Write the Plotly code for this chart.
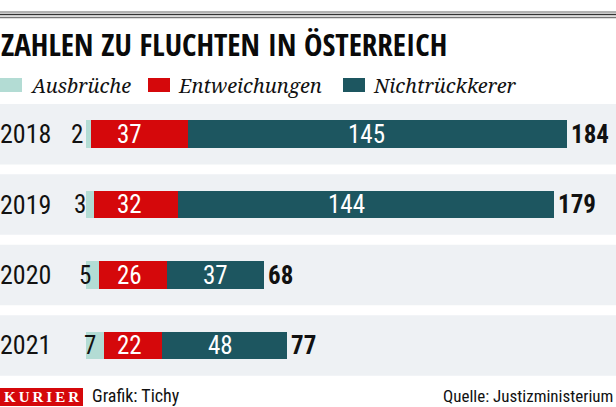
import plotly.graph_objects as go

# ---- data ----
years = ["2018", "2019", "2020", "2021"]
ausbrueche = [2, 3, 5, 7]
entweichungen = [37, 32, 26, 22]
nichtrueckkehrer = [145, 144, 37, 48]
totals = [184, 179, 68, 77]
series_names = ["Ausbrüche", "Entweichungen", "Nichtrückkerer"]

title_text = "ZAHLEN ZU FLUCHTEN IN ÖSTERREICH"
credit_text = "Grafik: Tichy"
source_text = "Quelle: Justizministerium"

# ---- style ----
W, H = 616, 407
C_LIGHT = "#b3dcd4"
C_RED = "#d5080b"
C_DARK = "#1d5660"
C_BAND = "#eef1f4"
NUM_FONT = "Roboto Condensed, Roboto, sans-serif"
colors = [C_LIGHT, C_RED, C_DARK]

fig = go.Figure()
for name, vals, col in zip(series_names, [ausbrueche, entweichungen, nichtrueckkehrer], colors):
    fig.add_trace(go.Bar(y=years, x=vals, orientation="h", name=name,
                         marker=dict(color=col, line=dict(width=0)),
                         width=0.39, showlegend=False, hoverinfo="x+name"))


def py(p):  # pixel y (from top) -> paper
    return 1 - p / H


def px(p):
    return p / W


shapes = []
annotations = []

# gray bands behind each row
for i in range(len(years)):
    shapes.append(dict(type="rect", xref="paper", yref="y", x0=0, x1=1,
                       y0=i - 0.43, y1=i + 0.43, fillcolor=C_BAND,
                       line=dict(width=0), layer="below"))

# top rules
for yy, col, wd in [(12, "#666666", 1), (14.5, "#333333", 1.3), (17.5, "#777777", 1.5)]:
    shapes.append(dict(type="line", xref="paper", yref="paper", x0=0, x1=1,
                       y0=py(yy), y1=py(yy), line=dict(color=col, width=wd)))

dark_shift = [-11, -19, 0, -4]
RED_LABEL_X = 16.8
for i, yr in enumerate(years):
    # year label
    annotations.append(dict(x=0, xref="paper", xanchor="left", xshift=-2, y=i, yref="y",
                            text=yr, showarrow=False,
                            font=dict(family=NUM_FONT, size=26, color="#111111")))
    # Ausbrüche value (dark, left of / inside the light segment)
    annotations.append(dict(x=ausbrueche[i], xref="x", xanchor="right", xshift=-6,
                            y=i, yref="y", text=str(ausbrueche[i]), showarrow=False,
                            font=dict(family=NUM_FONT, size=25, color="#111111")))
    # Entweichungen value
    annotations.append(dict(x=RED_LABEL_X, xref="x", xanchor="center",
                            y=i, yref="y", text=str(entweichungen[i]), showarrow=False,
                            font=dict(family=NUM_FONT, size=25, color="white")))
    # Nichtrückkehrer value
    start = ausbrueche[i] + entweichungen[i]
    annotations.append(dict(x=start + nichtrueckkehrer[i] / 2, xref="x", xanchor="center",
                            xshift=dark_shift[i], y=i, yref="y",
                            text=str(nichtrueckkehrer[i]), showarrow=False,
                            font=dict(family=NUM_FONT, size=25, color="white")))
    # total
    annotations.append(dict(x=totals[i], xref="x", xanchor="left", xshift=2,
                            y=i, yref="y", text="<b>%d</b>" % totals[i], showarrow=False,
                            font=dict(family=NUM_FONT, size=25, color="#111111")))

# title
annotations.append(dict(x=0, xref="paper", xanchor="left", xshift=-1, y=py(44), yref="paper",
                        yanchor="middle", text="<b>%s</b>" % title_text, showarrow=False,
                        font=dict(family="Open Sans Condensed, Roboto Condensed, sans-serif",
                                  size=31, color="#0a0a0a")))

# legend (manual)
leg_x = [0, 148, 343]
for lx, name, col in zip(leg_x, series_names, colors):
    shapes.append(dict(type="rect", xref="paper", yref="paper", x0=px(lx), x1=px(lx + 22),
                       y0=py(92), y1=py(78), fillcolor=col, line=dict(width=0)))
    annotations.append(dict(x=px(lx + 28), xref="paper", xanchor="left", y=py(85), yref="paper",
                            yanchor="middle", text="<i>%s</i>" % name, showarrow=False,
                            font=dict(family="Noto Serif, DejaVu Serif, serif", size=20,
                                      color="#111111")))

# footer
shapes.append(dict(type="rect", xref="paper", yref="paper", x0=0, x1=px(83),
                   y0=py(406), y1=py(388), fillcolor=C_RED, line=dict(width=0)))
annotations.append(dict(x=px(41.5), xref="paper", xanchor="center", y=py(397), yref="paper",
                        yanchor="middle", text="<b>K\u2009U\u2009R\u2009I\u2009E\u2009R</b>",
                        showarrow=False,
                        font=dict(family="Liberation Serif, serif", size=15, color="white")))
annotations.append(dict(x=px(90), xref="paper", xanchor="left", y=py(395.5), yref="paper",
                        yanchor="middle", text=credit_text, showarrow=False,
                        font=dict(family=NUM_FONT, size=18, color="#111111")))
annotations.append(dict(x=1, xref="paper", xanchor="right", xshift=-1, y=py(395.5), yref="paper",
                        yanchor="middle", text=source_text, showarrow=False,
                        font=dict(family=NUM_FONT, size=17, color="#111111")))

X0_PX, PX_PER_UNIT = 86, 2.615
Y0_PX, PX_PER_ROW = 134.2, 70.4
fig.update_layout(
    width=W, height=H, margin=dict(l=0, r=0, t=0, b=0),
    barmode="stack", bargap=0,
    plot_bgcolor="white", paper_bgcolor="white",
    xaxis=dict(range=[-X0_PX / PX_PER_UNIT, (W - X0_PX) / PX_PER_UNIT], visible=False, fixedrange=True),
    yaxis=dict(type="category", categoryorder="array", categoryarray=years,
               range=[(H - Y0_PX) / PX_PER_ROW, -Y0_PX / PX_PER_ROW], visible=False, fixedrange=True),
    shapes=shapes, annotations=annotations,
)
fig.write_html("out.html", config={"displayModeBar": False},
               post_script="document.body.style.margin='0';document.body.style.padding='0';")
